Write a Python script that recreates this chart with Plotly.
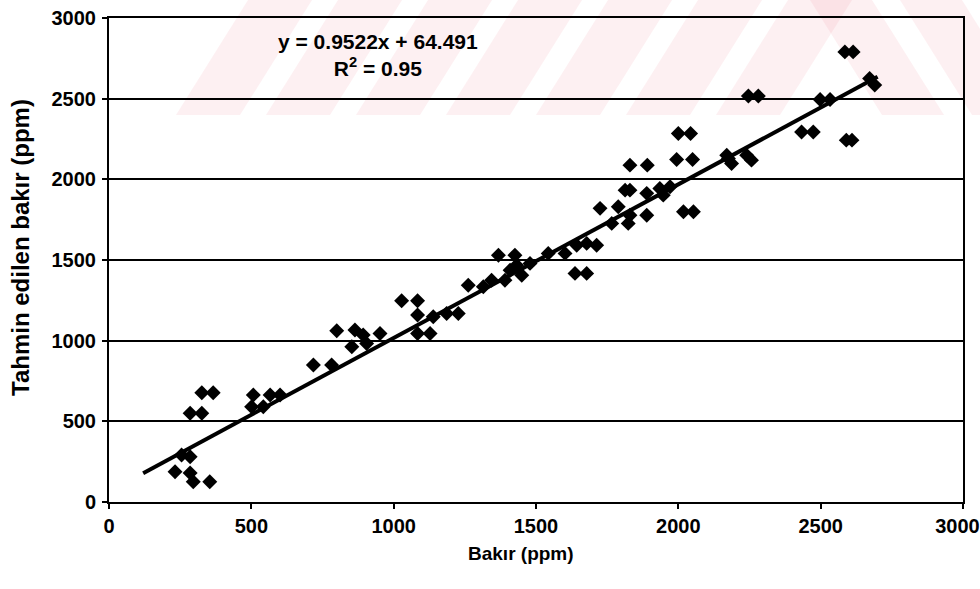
import plotly.graph_objects as go

# Measured copper (ppm) vs. predicted copper (ppm)
bakir = [232, 255, 285, 285, 296, 354, 285, 326, 326, 366,
         501, 542, 507, 566, 601, 718, 782, 800, 864, 893,
         952, 853, 905, 1028, 1084, 1084, 1139, 1084, 1128, 1186,
         1227, 1262, 1315, 1344, 1368, 1391, 1409, 1426, 1432, 1450,
         1479, 1543, 1602, 1637, 1678, 1643, 1678, 1713, 1725, 1766,
         1789, 1824, 1830, 1889, 1813, 1830, 1830, 1891, 1889, 1935,
         1971, 1947, 2000, 2043, 1994, 2050, 2018, 2053, 2176, 2187,
         2240, 2257, 2170, 2246, 2281, 2433, 2474, 2498, 2533, 2585,
         2614, 2590, 2610, 2672, 2690]
tahmin = [188, 291, 281, 180, 126, 126, 550, 550, 677, 677,
          590, 590, 663, 663, 663, 849, 849, 1061, 1066, 1035,
          1045, 962, 983, 1247, 1247, 1159, 1148, 1045, 1045, 1169,
          1169, 1344, 1334, 1375, 1530, 1375, 1437, 1530, 1468, 1406,
          1479, 1541, 1541, 1417, 1417, 1592, 1603, 1592, 1820, 1727,
          1830, 1727, 1778, 1778, 1933, 1933, 2088, 2088, 1913, 1943,
          1954, 1902, 2284, 2284, 2123, 2123, 1799, 1799, 2129, 2098,
          2150, 2119, 2150, 2516, 2516, 2294, 2294, 2495, 2495, 2790,
          2790, 2243, 2243, 2625, 2584]

# Linear trendline y = a*x + b
egim = 0.9522
kesisim = 64.491
r2 = 0.95
trend_x = [120, 2700]
trend_y = [egim * v + kesisim for v in trend_x]

tick_vals = [0, 500, 1000, 1500, 2000, 2500, 3000]
tick_text = ["0", "500", "1000", "1500", "2000", "2500", "3000"]
# last x label nudged left so it stays inside the page
x_tick_text = tick_text[:-1] + [tick_text[-1] + "\u00a0\u00a0"]

FONT = "Liberation Sans, Arial, sans-serif"

fig = go.Figure()
fig.add_trace(go.Scatter(
    x=bakir, y=tahmin, mode="markers",
    marker=dict(symbol="diamond", size=11.5, color="black",
                line=dict(width=0)),
    showlegend=False, hoverinfo="x+y"))
fig.add_trace(go.Scatter(
    x=trend_x, y=trend_y, mode="lines",
    line=dict(color="black", width=4),
    showlegend=False, hoverinfo="skip"))

# Faint striped background emblem in the upper band (pixel -> paper)
L, R, T, B = 109, 963, 18, 502
def px(xp):
    return (xp - L) / (R - L)
def py(yp):
    return (B - yp) / (B - T)

shapes = []
pink = "rgba(235,120,140,0.11)"
band_top, band_bot = 0, 115
for b0 in [176, 266, 356, 446, 536, 626, 716]:
    path = (f"M {px(b0)} {py(band_bot)} L {px(b0 + 64)} {py(band_bot)} "
            f"L {px(b0 + 64 + 72)} {py(band_top)} L {px(b0 + 72)} {py(band_top)} Z")
    shapes.append(dict(type="path", path=path, xref="paper", yref="paper",
                       fillcolor=pink, line=dict(width=0), layer="below"))
for t0 in [810, 900]:
    path = (f"M {px(t0)} {py(band_top)} L {px(t0 + 62)} {py(band_top)} "
            f"L {px(t0 + 62 + 72)} {py(band_bot)} L {px(t0 + 72)} {py(band_bot)} Z")
    shapes.append(dict(type="path", path=path, xref="paper", yref="paper",
                       fillcolor=pink, line=dict(width=0), layer="below"))

axis_common = dict(
    tickvals=tick_vals,
    tickfont=dict(family=FONT, size=20, color="black", weight="bold"),
    ticks="outside", ticklen=5, tickwidth=1.5, tickcolor="black",
    showline=True, linecolor="black", linewidth=2, mirror=True,
    zeroline=False, fixedrange=True, automargin=False,
    ticklabeloverflow="allow",
)

fig.update_layout(
    width=980, height=589,
    margin=dict(l=L, r=980 - R, t=T, b=589 - B),
    paper_bgcolor="white", plot_bgcolor="rgba(0,0,0,0)",
    shapes=shapes,
    xaxis=dict(range=[0, 3000], showgrid=False, ticklabelstandoff=0,
               ticktext=x_tick_text, **axis_common),
    yaxis=dict(range=[0, 3000], showgrid=True, gridcolor="black",
               gridwidth=1.5, ticklabelstandoff=2, ticktext=tick_text,
               **axis_common),
    annotations=[
        dict(x=945, y=2771, xref="x", yref="y", showarrow=False,
             text=f"y = {egim}x + {kesisim}<br>R<sup>2</sup> = {r2}",
             align="center",
             font=dict(family=FONT, size=21, color="black", weight="bold")),
        dict(x=px(521), y=py(553), xref="paper", yref="paper", showarrow=False,
             text="Bakır (ppm)", xanchor="center", yanchor="middle",
             font=dict(family=FONT, size=19, color="black", weight="bold")),
        dict(x=px(20), y=py(248), xref="paper", yref="paper", showarrow=False,
             text="Tahmin edilen bakır (ppm)", textangle=-90,
             xanchor="center", yanchor="middle",
             font=dict(family=FONT, size=24, color="black", weight="bold")),
    ],
)

fig.write_html("out.html")
